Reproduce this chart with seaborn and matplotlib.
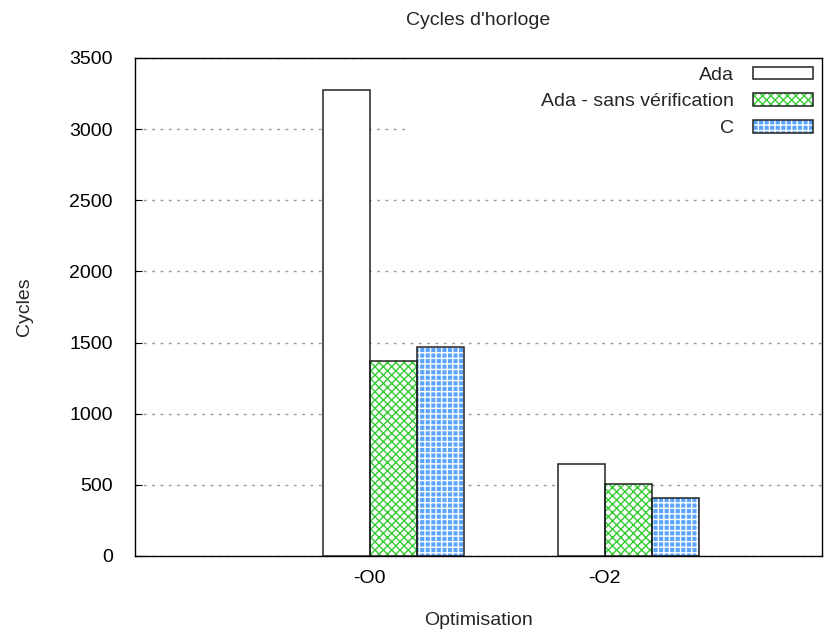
import pandas as pd
import matplotlib
matplotlib.use("Agg")
import matplotlib.pyplot as plt
from matplotlib.patches import Rectangle, Patch
import seaborn as sns

# values
options = ['-O0', '-O2']
versions = ['Ada', 'Ada - sans vérification', 'C']
ada = [3275, 648]
ada_nocheck = [1370, 505]
c_vals = [1470, 408]

rows = []
for name, vals in zip(versions, [ada, ada_nocheck, c_vals]):
    for opt, v in zip(options, vals):
        rows.append({'Optimisation': opt, 'Version': name, 'Cycles': v})
df = pd.DataFrame(rows)

sns.set_style('white')
plt.rcParams['font.family'] = ['Liberation Sans', 'DejaVu Sans']
plt.rcParams['hatch.linewidth'] = 1.0

fs = 14
fig = plt.figure(figsize=(8.29, 6.3), dpi=100)
ax = fig.add_axes([0.1628, 0.1175, 0.8288, 0.7905])

sns.barplot(data=df, x='Optimisation', y='Cycles', hue='Version',
            hue_order=versions, order=options, width=0.6,
            palette=['white'] * 3, ax=ax, legend=False, zorder=2)

# fill / hatch style for each series (gnuplot look)
styles = [
    dict(face='white', hatch=None, hc='white'),
    dict(face='white', hatch='xxxx', hc='#33cc33'),
    dict(face='#5aa5ff', hatch='+++', hc='white'),
]
handles = []
for cont, st in zip(ax.containers, styles):
    for bar in cont:
        bar.set_facecolor(st['face'])
        bar.set_hatch(st['hatch'])
        bar.set_edgecolor(st['hc'])
        bar.set_linewidth(0)
        ax.add_patch(Rectangle(bar.get_xy(), bar.get_width(), bar.get_height(),
                               fill=False, edgecolor='#222222', lw=1.1, zorder=3))
    h1 = Patch(facecolor=st['face'], hatch=st['hatch'], edgecolor=st['hc'], lw=0)
    h2 = Patch(facecolor='none', edgecolor='#222222', lw=1.1)
    handles.append((h1, h2))

ax.set_ylim(0, 3500)
ax.set_yticks(range(0, 3501, 500))
ax.set_xticks([-0.1, 0.9])
ax.set_xticklabels(options)
ax.set_xlim(-1.1, 1.825)

ax.yaxis.grid(True, linestyle=(0, (2, 4)), color='#999999', lw=1)
ax.set_axisbelow(True)
# white area behind the key, like gnuplot's opaque key box
ax.add_patch(Rectangle((0.4, 0.8), 0.6, 0.2, transform=ax.transAxes,
                       facecolor='white', edgecolor='none', zorder=1))

for s in ax.spines.values():
    s.set_color('black')
    s.set_linewidth(1)
ax.tick_params(axis='both', direction='in', length=5, labelsize=fs,
               colors='black', left=True, bottom=True)
ax.tick_params(axis='y', pad=16)
ax.tick_params(axis='x', pad=10)

ax.set_xlabel('Optimisation', fontsize=fs, labelpad=18)
ax.set_ylabel('Cycles', fontsize=fs, labelpad=26)
ax.set_title("Cycles d'horloge", fontsize=fs, pad=24)

leg = ax.legend(handles, versions, loc='upper right', markerfirst=False,
                frameon=False, fontsize=fs, handlelength=3.1, handleheight=0.6,
                labelspacing=0.5, handletextpad=1.0, borderaxespad=0.05,
                bbox_to_anchor=(1.0, 1.0))

fig.savefig('out.png', dpi=100)
